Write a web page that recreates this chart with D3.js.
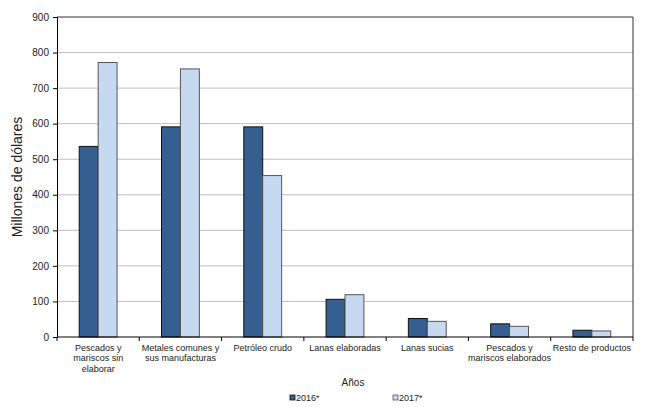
<!DOCTYPE html>
<html>
<head>
<meta charset="utf-8">
<script src="https://d3js.org/d3.v7.min.js"></script>
<style>
  body { margin: 0; background: #fff; }
  svg { font-family: "Liberation Sans", Arial, sans-serif; }
</style>
</head>
<body>
<svg id="chart" width="668" height="407"></svg>
<script>
// Data
const categories = [
  ["Pescados y", "mariscos sin", "elaborar"],
  ["Metales comunes y", "sus manufacturas"],
  ["Petróleo crudo"],
  ["Lanas elaboradas"],
  ["Lanas sucias"],
  ["Pescados y", "mariscos elaborados"],
  ["Resto de productos"]
];
const seriesNames = ["2016*", "2017*"];
const values2016 = [536, 591, 591, 106, 52, 37, 19];
const values2017 = [772, 754, 454, 119, 44, 30, 17];
const yTicks = [0, 100, 200, 300, 400, 500, 600, 700, 800, 900];

const colors = ["#365f91", "#c6d9f1"];
const strokes = ["#111", "#555"];

const margin = { top: 17, right: 35, bottom: 70, left: 57 };
const width = 668 - margin.left - margin.right;
const height = 407 - margin.top - margin.bottom;

const svg = d3.select("#chart");
const g = svg.append("g")
    .attr("transform", `translate(${margin.left},${margin.top})`);

const keys = categories.map((d, i) => i);

const x = d3.scaleBand()
    .domain(keys)
    .range([0, width]);

const y = d3.scaleLinear()
    .domain([0, 900])
    .range([height, 0]);

const groupWidth = x.bandwidth() * 0.46;
const xInner = d3.scaleBand()
    .domain([0, 1])
    .range([(x.bandwidth() - groupWidth) / 2, (x.bandwidth() + groupWidth) / 2]);

// Gridlines
g.append("g")
    .selectAll("line")
    .data(yTicks.filter(t => t > 0 && t < 900))
    .enter().append("line")
    .attr("x1", 0)
    .attr("x2", width)
    .attr("y1", d => y(d))
    .attr("y2", d => y(d))
    .attr("stroke", "#c0c0c0")
    .attr("stroke-width", 1);

// Frame top and right
g.append("path")
    .attr("d", `M0,${y(900)}H${width}V${height}`)
    .attr("fill", "none")
    .attr("stroke", "#333")
    .attr("stroke-width", 1);

// Bars
const table = keys.map(i => ({ i, vals: [values2016[i], values2017[i]] }));
const groups = g.selectAll(".grp")
    .data(table)
    .enter().append("g")
    .attr("class", "grp")
    .attr("transform", d => `translate(${x(d.i)},0)`);

groups.selectAll("rect")
    .data(d => d.vals.map((v, s) => ({ v, s })))
    .enter().append("rect")
    .attr("x", d => xInner(d.s))
    .attr("width", xInner.bandwidth())
    .attr("y", d => y(d.v))
    .attr("height", d => height - y(d.v))
    .attr("fill", d => colors[d.s])
    .attr("stroke", d => strokes[d.s])
    .attr("stroke-width", 1);

// Y axis
const yAxis = d3.axisLeft(y).tickValues(yTicks).tickSize(4).tickPadding(4);
const yG = g.append("g").call(yAxis);
yG.select(".domain").attr("stroke", "#000");
yG.selectAll(".tick line").attr("stroke", "#000");
yG.selectAll("text").attr("font-size", 10).attr("fill", "#222");

// X axis
const xG = g.append("g").attr("transform", `translate(0,${height})`);
xG.append("line")
    .attr("x1", 0).attr("x2", width)
    .attr("stroke", "#000");
xG.selectAll(".tk")
    .data(keys.concat([keys.length]))
    .enter().append("line")
    .attr("x1", d => d * x.step())
    .attr("x2", d => d * x.step())
    .attr("y1", 0).attr("y2", 4)
    .attr("stroke", "#000");

xG.selectAll(".lbl")
    .data(table)
    .enter().append("text")
    .attr("text-anchor", "middle")
    .attr("font-size", 9)
    .attr("fill", "#222")
    .attr("transform", d => `translate(${x(d.i) + x.bandwidth() / 2},14)`)
    .selectAll("tspan")
    .data(d => categories[d.i])
    .enter().append("tspan")
    .attr("x", 0)
    .attr("dy", (d, j) => j === 0 ? 0 : 10.3)
    .text(d => d);

// Axis titles
svg.append("text")
    .attr("x", 353)
    .attr("y", 386)
    .attr("text-anchor", "middle")
    .attr("font-size", 10)
    .attr("fill", "#222")
    .text("Años");

svg.append("text")
    .attr("transform", "translate(22,177) rotate(-90)")
    .attr("text-anchor", "middle")
    .attr("font-size", 14)
    .attr("fill", "#222")
    .text("Millones de dólares");

// Legend
const legendX = [290, 393];
const legend = svg.append("g");
seriesNames.forEach((name, s) => {
    legend.append("rect")
        .attr("x", legendX[s])
        .attr("y", 395)
        .attr("width", 5)
        .attr("height", 5)
        .attr("fill", colors[s])
        .attr("stroke", strokes[s])
        .attr("stroke-width", 0.8);
    legend.append("text")
        .attr("x", legendX[s] + 6)
        .attr("y", 401)
        .attr("font-size", 9)
        .attr("fill", "#222")
        .text(name);
});
</script>
</body>
</html>
